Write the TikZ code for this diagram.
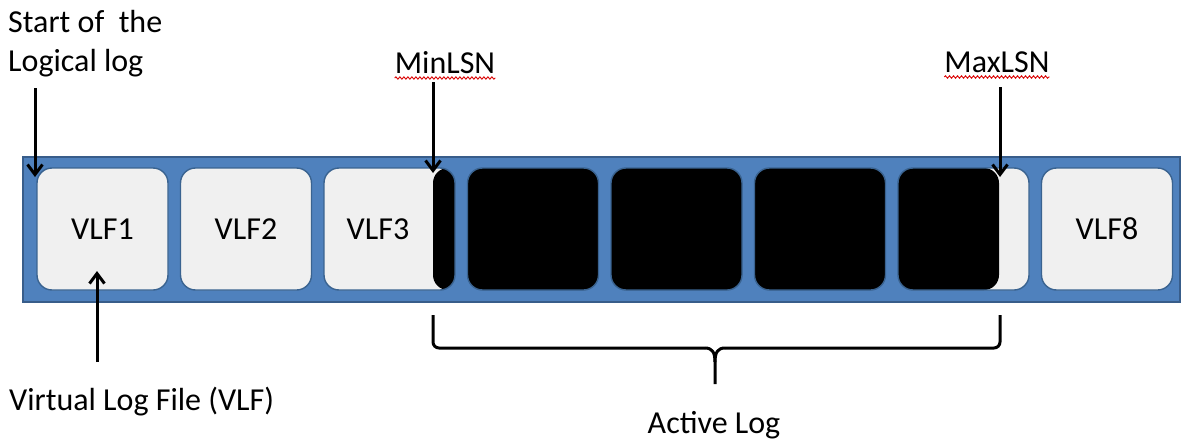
\documentclass[tikz,border=0pt]{standalone}
\usepackage{fontspec}
\setmainfont{Carlito}
\usetikzlibrary{arrows.meta,decorations.pathmorphing}
\definecolor{barblue}{HTML}{4F81BD}
\definecolor{barline}{HTML}{385D8A}
\definecolor{boxfill}{HTML}{F0F0F0}
\definecolor{boxline}{HTML}{3A6390}
\tikzset{
  lbl/.style={font=\fontsize{32}{39}\selectfont, inner sep=0pt},
  vlf/.style={draw=boxline, line width=1.4pt, fill=boxfill, rounded corners=15pt,
    minimum width=131pt, minimum height=122pt, inner sep=0pt,
    font=\fontsize{32}{34}\selectfont},
  arr/.style={line width=3pt, -{Straight Barb[length=10pt,width=15pt,line width=3pt]}},
  squig/.style={draw=red!85!black, line width=0.9pt, decorate,
    decoration={snake, segment length=4pt, amplitude=1.2pt}},
  brace/.style={line width=3pt, line join=round}
}
\begin{document}
\begin{tikzpicture}[x=1pt,y=-1pt]
\useasboundingbox (0,0) rectangle (1184,442);
% bar
\draw[fill=barblue, draw=barline, line width=1.5pt] (23,157) rectangle (1180,302);
% boxes
\node[vlf] (v1) at (102.5,229) {VLF1};
\node[vlf] (v2) at (246,229) {VLF2};
\node[vlf, path picture={\fill[black] ([xshift=-22pt]path picture bounding box.north east) rectangle (path picture bounding box.south east);}] (v3) at (389.5,229) {};
\node[lbl] (v3t) at (378,229) {VLF3};
\node[vlf, fill=black] (v4) at (533,229) {};
\node[vlf, fill=black] (v5) at (676.5,229) {};
\node[vlf, fill=black] (v6) at (820,229) {};
\node[vlf, path picture={\fill[black] (path picture bounding box.north west) rectangle ([xshift=101pt]path picture bounding box.south west);}] (v7) at (963.5,229) {};
\node[vlf] (v8) at (1107,229) {VLF8};
% labels
\node[lbl, anchor=base west, align=left] (start) at (8,71) {Start of\ \ the\\Logical log};
\node[lbl, anchor=base] (minl) at (445,73) {MinLSN};
\node[lbl, anchor=base] (maxl) at (997,72) {MaxLSN};
\node[lbl, anchor=base west] (vlfl) at (9,410) {Virtual Log File (VLF)};
\node[lbl, anchor=base] (act) at (714,433) {Active Log};
% squiggles
\draw[squig] ([yshift=-5pt]minl.base west) -- ([yshift=-5pt]minl.base east);
\draw[squig] ([yshift=-5pt]maxl.base west) -- ([yshift=-5pt]maxl.base east);
% coordinates
\coordinate (sA) at (35,88);
\coordinate (sB) at (35,177);
\coordinate (mA) at (433,82);
\coordinate (mB) at (433,173);
\coordinate (xA) at (1000,87);
\coordinate (xB) at (1000,177);
\coordinate (vA) at (97,362);
\coordinate (vB) at (97,271);
% arrows
\draw[arr] (sA) -- (sB);
\draw[arr] (mA) -- (mB);
\draw[arr] (xA) -- (xB);
\draw[arr] (vA) -- (vB);
% brace
\coordinate (bL) at (433,315);
\coordinate (bR) at (1000,315);
\coordinate (bT) at (715,384);
\draw[brace, rounded corners=6pt] (bL) -- (433,348) -- (705,348);
\draw[brace] (705,348) .. controls (712,348) and (715,352) .. (715,362) -- (bT);
\draw[brace, rounded corners=6pt] (bR) -- (1000,348) -- (725,348);
\draw[brace] (725,348) .. controls (718,348) and (715,352) .. (715,362);
\end{tikzpicture}
\end{document}
